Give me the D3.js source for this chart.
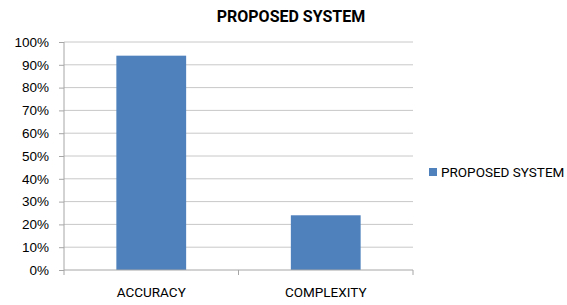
<!DOCTYPE html>
<html>
<head>
<meta charset="utf-8">
<script src="https://cdn.jsdelivr.net/npm/d3@7"></script>
<style>
  body { margin: 0; background: #fff; }
  svg { font-family: Roboto, "Liberation Sans", sans-serif; }
  .axis text { fill: #000; font-size: 13.5px; }
  .axis path, .axis line { stroke: #a6a6a6; }
</style>
</head>
<body>
<svg width="567" height="305"></svg>
<script>
// chart data
var categories = ['ACCURACY', 'COMPLEXITY'];
var values = [0.94, 0.24];
var seriesName = 'PROPOSED SYSTEM';
var yTicks = [0, 0.1, 0.2, 0.3, 0.4, 0.5, 0.6, 0.7, 0.8, 0.9, 1];

var svg = d3.select('svg');

var xScale = d3.scaleBand()
    .domain(categories).range([64, 413])
    .paddingInner(0.6).paddingOuter(0.3);

var yScale = d3.scaleLinear()
    .domain([0, 1]).range([270, 42]);

// gridlines
svg.append('g')
    .selectAll('line')
    .data(yTicks.slice(1))
    .enter()
    .append('line')
    .attr('x1', 64).attr('x2', 413)
    .attr('y1', function(d) { return yScale(d); })
    .attr('y2', function(d) { return yScale(d); })
    .attr('stroke', '#c8c8c8')
    .attr('stroke-width', 1);

// y axis
svg.append('g').attr('class', 'y axis')
    .attr('transform', 'translate(64,0)')
    .call(d3.axisLeft(yScale).tickValues(yTicks).tickSize(5).tickPadding(10)
        .tickFormat(d3.format('.0%')))
    .call(function(g) { g.select('.domain').attr('d', 'M0,42V270'); });

// bars
svg.append('g')
    .selectAll('rect')
    .data(values)
    .enter()
    .append('rect')
    .attr('x', function(d, i) { return xScale(categories[i]); })
    .attr('y', function(d) { return yScale(d); })
    .attr('width', xScale.bandwidth())
    .attr('height', function(d) { return yScale(0) - yScale(d); })
    .attr('fill', '#4f81bd');

// x axis
var xAxis = svg.append('g').attr('class', 'x axis')
    .attr('transform', 'translate(0,270)');
xAxis.append('line').attr('x1', 64).attr('x2', 413).attr('stroke', '#a6a6a6');
xAxis.selectAll('.tk')
    .data([0, 1, 2])
    .enter()
    .append('line')
    .attr('class', 'tk')
    .attr('x1', function(d) { return 64 + d * xScale.step(); })
    .attr('x2', function(d) { return 64 + d * xScale.step(); })
    .attr('y1', 0).attr('y2', 5)
    .attr('stroke', '#a6a6a6');
xAxis.selectAll('text')
    .data(categories)
    .enter()
    .append('text')
    .attr('x', function(d) { return xScale(d) + xScale.bandwidth() / 2; })
    .attr('y', 27)
    .attr('text-anchor', 'middle')
    .text(function(d) { return d; });

// title
svg.append('text')
    .attr('x', 291).attr('y', 22)
    .attr('text-anchor', 'middle')
    .style('font-size', '16px')
    .style('font-weight', 'bold')
    .text(seriesName);

// legend
svg.append('rect')
    .attr('x', 429).attr('y', 168)
    .attr('width', 8).attr('height', 8)
    .attr('fill', '#4f81bd');
svg.append('text')
    .attr('x', 441).attr('y', 177)
    .style('font-size', '13.5px')
    .text(seriesName);
</script>
</body>
</html>
